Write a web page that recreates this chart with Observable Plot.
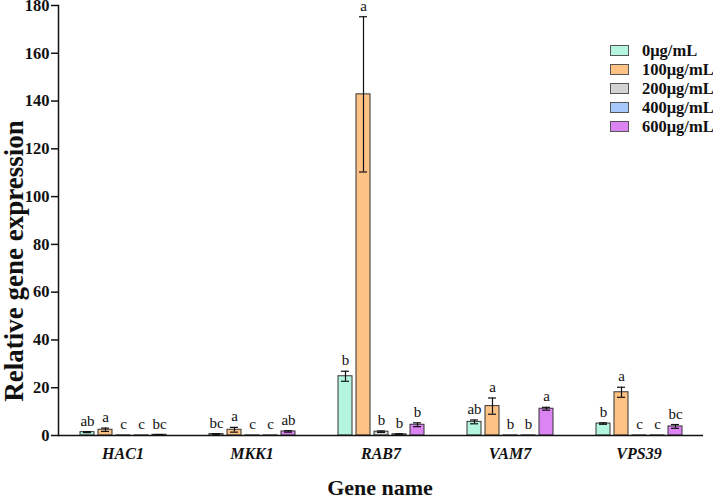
<!DOCTYPE html>
<html>
<head>
<meta charset="utf-8">
<script src="https://cdn.jsdelivr.net/npm/d3@7"></script>
<script src="https://cdn.jsdelivr.net/npm/@observablehq/plot@0.6"></script>
<style>
  html, body { margin: 0; padding: 0; background: #fff; }
  #chart { position: relative; width: 713px; height: 501px; font-family: "Liberation Serif", "Times New Roman", serif; }
  #legend { position: absolute; left: 610px; top: 41px; font-weight: bold; font-size: 16.5px; color: #111; }
  #legend .row { display: flex; align-items: center; height: 19px; white-space: nowrap; }
  #legend .sw { width: 17px; height: 9px; border: 1px solid #555; margin-right: 13px; }
</style>
</head>
<body>
<div id="chart"><div id="legend"></div></div>
<script>
// Genes on the x axis and the treatment concentrations within each gene
const genes = ["HAC1", "MKK1", "RAB7", "VAM7", "VPS39"];
const concentrations = ["0μg/mL", "100μg/mL", "200μg/mL", "400μg/mL", "600μg/mL"];
const colors = ["#b4f5df", "#fec285", "#d3d3d3", "#a6c8fb", "#dc84f4"];

// Mean relative expression per concentration (one value per gene)
const mean0   = [1.4, 0.6, 24.8, 5.7, 5.0];
const mean100 = [2.4, 2.4, 142.8, 12.3, 18.1];
const mean200 = [0.05, 0.05, 1.6, 0.05, 0.05];
const mean400 = [0.05, 0.05, 0.5, 0.05, 0.05];
const mean600 = [0.3, 1.7, 4.5, 11.2, 3.8];

// Standard deviations
const sd0   = [0.2, 0.1, 2.1, 0.8, 0.3];
const sd100 = [0.7, 1.0, 32.5, 3.4, 2.1];
const sd200 = [0, 0, 0.3, 0, 0];
const sd400 = [0, 0, 0.2, 0, 0];
const sd600 = [0.1, 0.3, 0.8, 0.6, 0.8];

// Significance letters
const letters0   = ["ab", "bc", "b", "ab", "b"];
const letters100 = ["a", "a", "a", "a", "a"];
const letters200 = ["c", "c", "b", "b", "c"];
const letters400 = ["c", "c", "b", "b", "c"];
const letters600 = ["bc", "ab", "b", "a", "bc"];

const yTicks = [0, 20, 40, 60, 80, 100, 120, 140, 160, 180];

const means = [mean0, mean100, mean200, mean400, mean600];
const sds = [sd0, sd100, sd200, sd400, sd600];
const letters = [letters0, letters100, letters200, letters400, letters600];

const rows = [];
genes.forEach((gene, gi) => {
  concentrations.forEach((conc, ci) => {
    const m = means[ci][gi], s = sds[ci][gi];
    rows.push({gene, conc, mean: m, lo: m - s, hi: m + s, sd: s, letter: letters[ci][gi]});
  });
});
const withError = rows.filter(d => d.sd > 0);

const font = `"Liberation Serif", "Times New Roman", serif`;

const plot = Plot.plot({
  width: 713,
  height: 501,
  marginLeft: 57,
  marginRight: 10,
  marginTop: 5,
  marginBottom: 66,
  style: {fontFamily: font, background: "#fff", color: "#111"},
  fx: {domain: genes, padding: 0, label: null},
  x: {domain: concentrations, padding: 0.24, paddingOuter: 1.1, axis: null},
  y: {domain: [0, 180], label: null},
  color: {domain: concentrations, range: colors},
  marks: [
    Plot.frame({anchor: "left", facetAnchor: "left", stroke: "#111", strokeWidth: 1.5}),
    Plot.axisY({ticks: yTicks, tickSize: 7, tickPadding: 2, fontSize: 16.5, fontWeight: "bold", stroke: "#111", strokeWidth: 1.5, label: null}),
    Plot.axisFx({anchor: "bottom", tickSize: 0, tickPadding: 12, fontSize: 16, fontWeight: "bold", fontStyle: "italic", label: null}),
    Plot.barY(rows, {fx: "gene", x: "conc", y: "mean", fill: "conc", stroke: "#333", strokeWidth: 1}),
    Plot.ruleX(withError, {fx: "gene", x: "conc", y1: "lo", y2: "hi", stroke: "#111", strokeWidth: 1.2}),
    Plot.tickY(withError, {fx: "gene", x: "conc", y: "hi", insetLeft: 3, insetRight: 3, stroke: "#111", strokeWidth: 1.2}),
    Plot.tickY(withError, {fx: "gene", x: "conc", y: "lo", insetLeft: 3, insetRight: 3, stroke: "#111", strokeWidth: 1.2}),
    Plot.text(rows, {fx: "gene", x: "conc", y: "hi", text: "letter", lineAnchor: "bottom", dy: -6, fontSize: 15, fill: "#111"}),
    Plot.ruleY([0], {stroke: "#111", strokeWidth: 1.5})
  ]
});

// Axis titles
const svg = d3.select(plot);
svg.append("text")
  .attr("transform", "translate(23,261) rotate(-90)")
  .attr("text-anchor", "middle")
  .attr("font-size", 27).attr("font-weight", "bold").attr("fill", "#111")
  .text("Relative gene expression");
svg.append("text")
  .attr("x", 380).attr("y", 495)
  .attr("text-anchor", "middle")
  .attr("font-size", 22).attr("font-weight", "bold").attr("fill", "#111")
  .text("Gene name");

const chart = document.getElementById("chart");
chart.insertBefore(plot, chart.firstChild);

// Legend
const legend = d3.select("#legend");
concentrations.forEach((c, i) => {
  const row = legend.append("div").attr("class", "row");
  row.append("div").attr("class", "sw").style("background", colors[i]);
  row.append("span").text(c);
});
</script>
</body>
</html>
